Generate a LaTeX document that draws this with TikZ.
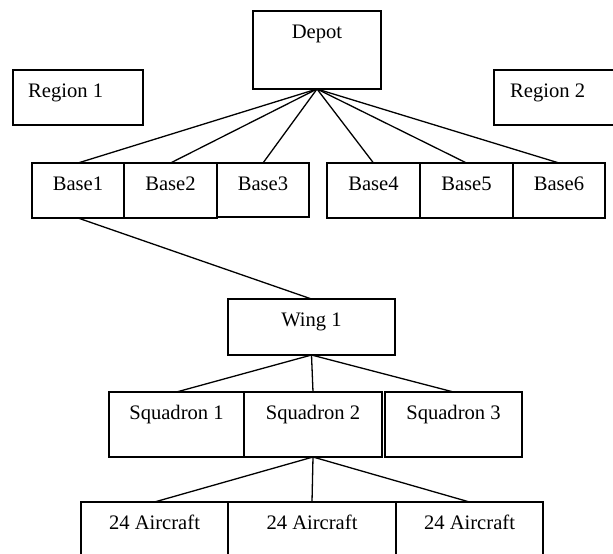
\documentclass[tikz,border=0pt]{standalone}
\usepackage{fontspec}
\setmainfont{Liberation Serif}
\begin{document}
\begin{tikzpicture}[x=1pt,y=-1pt,
  box/.style={draw=black,line width=1.3pt,rectangle,inner sep=0pt,outer sep=0pt},
  txt/.style={inner sep=0pt,font=\fontsize{20.6pt}{24pt}\selectfont,text=black},
  conn/.style={draw=black,line width=1.3pt}]
\useasboundingbox (0,0) rectangle (613,554);
\fill[white] (0,0) rectangle (613,554);
\clip (0,0) rectangle (613,554);
% boxes
\node[box,minimum width=128pt,minimum height=78pt] (depot) at (317,50) {};
\node[box,minimum width=130pt,minimum height=55pt] (r1) at (78,97.5) {};
\node[box,minimum width=146pt,minimum height=55pt] (r2) at (567,97.5) {};
\node[box,minimum width=92pt,minimum height=55pt] (b1) at (78,190.5) {};
\node[box,minimum width=93pt,minimum height=55pt] (b2) at (170.5,190.5) {};
\node[box,minimum width=92pt,minimum height=54pt] (b3) at (263,190) {};
\node[box,minimum width=93pt,minimum height=55pt] (b4) at (373.5,190.5) {};
\node[box,minimum width=93pt,minimum height=55pt] (b5) at (466.5,190.5) {};
\node[box,minimum width=92pt,minimum height=55pt] (b6) at (559,190.5) {};
\node[box,minimum width=167pt,minimum height=56pt] (wing) at (311.5,327) {};
\node[box,minimum width=135pt,minimum height=65pt] (s1) at (176.5,424.5) {};
\node[box,minimum width=138pt,minimum height=65pt] (s2) at (313,424.5) {};
\node[box,minimum width=137pt,minimum height=65pt] (s3) at (453.5,424.5) {};
\node[box,minimum width=147pt,minimum height=70pt] (a1) at (154.5,537) {};
\node[box,minimum width=168pt,minimum height=70pt] (a2) at (312,537) {};
\node[box,minimum width=147pt,minimum height=70pt] (a3) at (469.5,537) {};
% texts
\node[txt,anchor=base] (tdepot) at ([yshift=-27.5pt]depot.north) {Depot};
\node[txt,anchor=base west] (tr1) at ([xshift=15pt,yshift=-27.5pt]r1.north west) {Region 1};
\node[txt,anchor=base west] (tr2) at ([xshift=16pt,yshift=-27.5pt]r2.north west) {Region 2};
\foreach \n/\t in {b1/Base1,b2/Base2,b3/Base3,b4/Base4,b5/Base5,b6/Base6,wing/Wing 1,s1/Squadron 1,s2/Squadron 2,s3/Squadron 3,a1/24 Aircraft,a2/24 Aircraft,a3/24 Aircraft}
  \node[txt,anchor=base] (t\n) at ([yshift=-27.5pt]\n.north) {\t};
% connectors
\foreach \b in {b1,b2,b3,b4,b5,b6}
  \draw[conn] (depot.south) -- (\b.north);
\draw[conn] (b1.south) -- (wing.north);
\foreach \s in {s1,s2,s3}
  \draw[conn] (wing.south) -- (\s.north);
\foreach \a in {a1,a2,a3}
  \draw[conn] (s2.south) -- (\a.north);
\end{tikzpicture}
\end{document}
